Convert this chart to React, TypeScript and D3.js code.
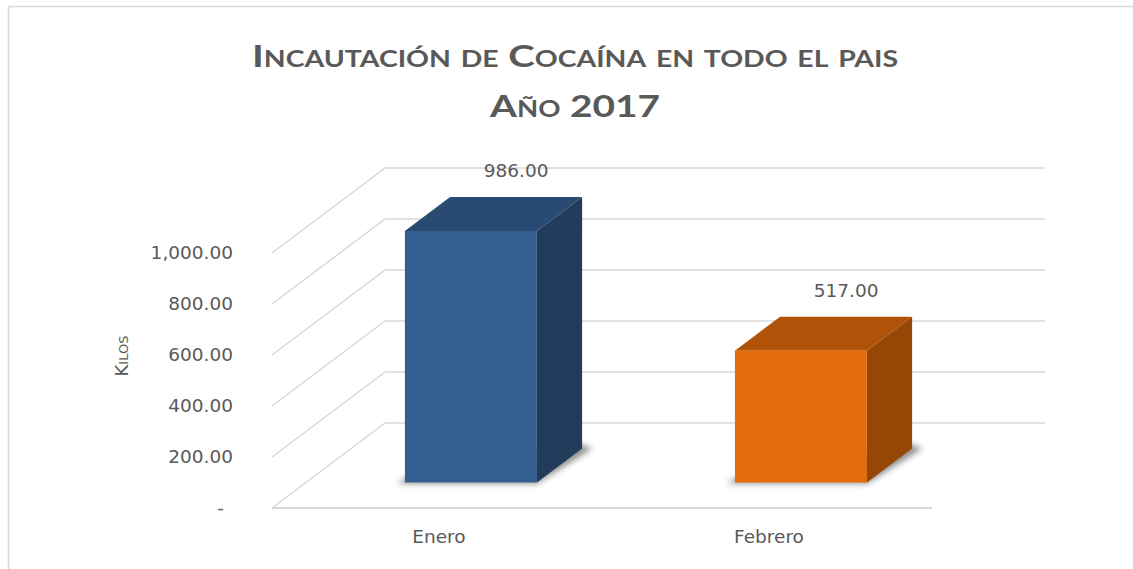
import React from "react";
import * as d3 from "d3";

const categories = ["Enero", "Febrero"];
const values = [986, 517];
const valueLabels = ["986.00", "517.00"];
const yTicks = [0, 200, 400, 600, 800, 1000];
const yTickLabels = ["-", "200.00", "400.00", "600.00", "800.00", "1,000.00"];
const titleLine1 = "Incautación de Cocaína en todo el pais";
const titleLine2 = "Año 2017";
const yAxisTitle = "Kilos";

const palette = [
  { front: "#355e90", top: "#294a72", side: "#233c5c" },
  { front: "#e36c0b", top: "#b05207", side: "#964706" },
];

const W = 1133;
const H = 569;

export default function App() {
  // front plane
  const floorY = 508;
  const x0 = 272;
  const x1 = 932;
  const depthDX = 113;
  const depthDY = -85;

  const y = d3.scaleLinear().domain([0, 1000]).range([0, 255]);
  const x = d3.scaleBand<string>().domain(categories).range([x0, x1]).paddingInner(0).paddingOuter(0);
  const depth = d3.scaleLinear().domain([0, 1]).range([0, 1]);
  const dFront = depth(0.3);
  const dBack = depth(0.7);
  const barFrac = 0.4;

  const fy = (v: number, d: number) => floorY - y(v) + depthDY * d;
  const fx = (xx: number, d: number) => xx + depthDX * d;

  const gridColor = "#d9d9d9";
  const textColor = "#595959";
  const numFont = "'DejaVu Sans', sans-serif";

  const line = d3.line<[number, number]>();

  return (
    <svg
      width={W}
      height={H}
      style={{ position: "absolute", left: 0, top: 0, display: "block" }}
      fontFamily={numFont}
    >
      <defs>
        <filter id="shadow" x="-20%" y="-50%" width="140%" height="200%">
          <feGaussianBlur stdDeviation="3" />
        </filter>
      </defs>
      <rect x={0} y={0} width={W} height={H} fill="#ffffff" />
      <rect x={8.5} y={6.5} width={1200} height={700} fill="#ffffff" stroke="#d9d9d9" strokeWidth={1.5} />

      {/* Title */}
      <text
        x={575}
        y={67}
        textAnchor="middle"
        fontFamily="Lato, 'Open Sans', sans-serif"
        fontWeight="bold"
        fontSize={31}
        fill={textColor}
        style={{ fontVariant: "small-caps" }}
        textLength={646}
        lengthAdjust="spacingAndGlyphs"
      >
        {titleLine1}
      </text>
      <text
        x={575}
        y={117}
        textAnchor="middle"
        fontFamily="Lato, 'Open Sans', sans-serif"
        fontWeight="bold"
        fontSize={31}
        fill={textColor}
        style={{ fontVariant: "small-caps" }}
        textLength={170}
        lengthAdjust="spacingAndGlyphs"
      >
        {titleLine2}
      </text>

      {/* Back wall gridlines and side wall diagonals */}
      {yTicks.map((t) => (
        <g key={"g" + t}>
          <path
            d={line([
              [fx(x0, 0), fy(t, 0)],
              [fx(x0, 1), fy(t, 1)],
              [fx(x1, 1), fy(t, 1)],
            ]) as string}
            fill="none"
            stroke={gridColor}
            strokeWidth={1.5}
          />
        </g>
      ))}
      {/* floor front edge */}
      <path
        d={line([
          [x0, floorY],
          [x1, floorY],
        ]) as string}
        stroke={gridColor}
        strokeWidth={2}
      />

      {/* Y tick labels */}
      {yTicks.map((t, i) => (
        <text
          key={"t" + t}
          x={t === 0 ? 224 : 233}
          y={fy(t, 0)}
          dy="0.35em"
          textAnchor="end"
          fontSize={18.5}
          fill={textColor}
        >
          {yTickLabels[i]}
        </text>
      ))}

      {/* Y axis title */}
      <text
        transform={`translate(128,356) rotate(-90)`}
        textAnchor="middle"
        fontSize={18}
        fill={textColor}
        style={{ fontVariant: "small-caps" }}
      >
        {yAxisTitle}
      </text>

      {/* Bars */}
      {categories.map((c, i) => {
        const bx = (x(c) as number) + (x.bandwidth() * (1 - barFrac)) / 2;
        const bw = x.bandwidth() * barFrac;
        const v = values[i];
        const col = palette[i];
        const FL: [number, number] = [fx(bx, dFront), fy(0, dFront)];
        const FR: [number, number] = [fx(bx + bw, dFront), fy(0, dFront)];
        const FLt: [number, number] = [fx(bx, dFront), fy(v, dFront)];
        const FRt: [number, number] = [fx(bx + bw, dFront), fy(v, dFront)];
        const BL: [number, number] = [fx(bx, dBack), fy(0, dBack)];
        const BR: [number, number] = [fx(bx + bw, dBack), fy(0, dBack)];
        const BLt: [number, number] = [fx(bx, dBack), fy(v, dBack)];
        const BRt: [number, number] = [fx(bx + bw, dBack), fy(v, dBack)];
        const poly = (pts: [number, number][]) => (line(pts) as string) + "Z";
        const labelX = (BLt[0] + BRt[0]) / 2;
        return (
          <g key={c}>
            <path
              d={poly([
                [FL[0] - 8, FL[1] + 1],
                [FR[0], FR[1] + 1],
                [BR[0] + 10, BR[1]],
                [BR[0], BR[1] - 4],
                [FL[0], FL[1] - 4],
              ])}
              fill="#000"
              opacity={0.45}
              filter="url(#shadow)"
            />
            <path d={poly([FLt, FRt, BRt, BLt])} fill={col.top} />
            <path d={poly([FR, FRt, BRt, BR])} fill={col.side} />
            <path d={poly([FL, FR, FRt, FLt])} fill={col.front} />
            <text
              x={labelX}
              y={BLt[1] - 20}
              textAnchor="middle"
              fontSize={18.5}
              fill={textColor}
            >
              {valueLabels[i]}
            </text>
          </g>
        );
      })}

      {/* Category labels */}
      {categories.map((c) => (
        <text
          key={"c" + c}
          x={(x(c) as number) + x.bandwidth() / 2 + 2}
          y={537}
          dy="0.35em"
          textAnchor="middle"
          fontSize={18.5}
          fill={textColor}
        >
          {c}
        </text>
      ))}
    </svg>
  );
}
